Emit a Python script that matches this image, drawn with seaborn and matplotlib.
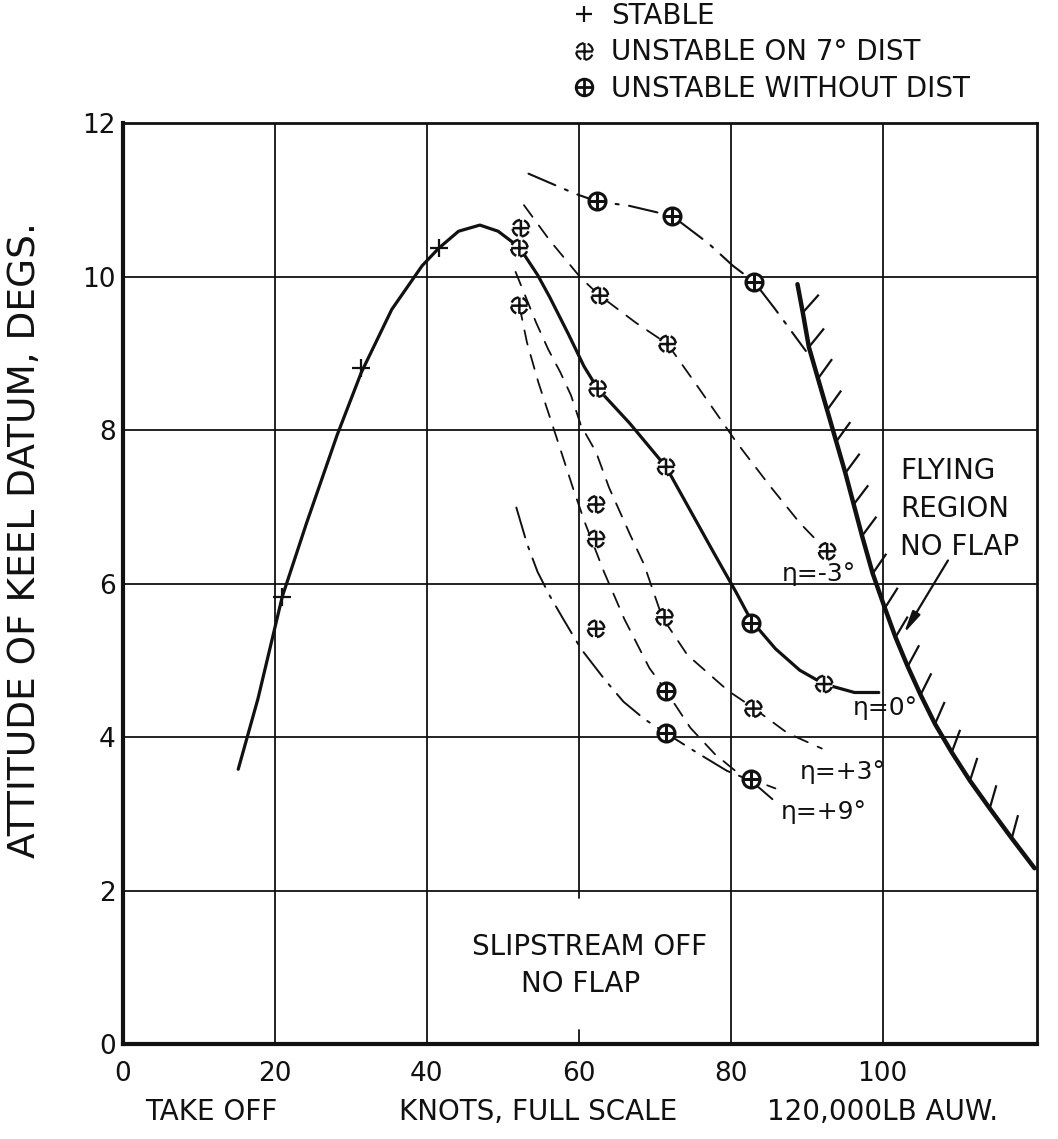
import numpy as np
import pandas as pd
import matplotlib
matplotlib.use("Agg")
import matplotlib.pyplot as plt
from matplotlib.path import Path
from matplotlib.lines import Line2D
from matplotlib.collections import LineCollection
import matplotlib.transforms as mtransforms
import seaborn as sns

# ---------------- data ----------------
# eta = 0 deg curve (solid): rising branch stable, falling branch unstable
eta0_x = [15.2, 17.8, 21.0, 24.2, 28.2, 31.4, 35.4, 39.4, 41.6, 44.2, 47.0, 49.4, 52.2, 54.6,
          56.2, 58.7, 60.7, 62.5, 66.7, 71.5, 74.7, 77.9, 80.7, 82.7, 85.9, 89.1, 92.3, 96.3, 99.5]
eta0_y = [3.58, 4.50, 5.83, 6.79, 7.93, 8.75, 9.57, 10.14, 10.37, 10.59, 10.67, 10.59, 10.38, 10.02,
          9.73, 9.24, 8.83, 8.54, 8.09, 7.52, 6.95, 6.38, 5.89, 5.52, 5.15, 4.87, 4.69, 4.58, 4.58]

# top curve (long dash-dot)
top_x = [53.4, 59.5, 62.4, 66.7, 72.3, 77.1, 80.3, 83.1, 85.9, 89.9]
top_y = [11.34, 11.08, 10.98, 10.92, 10.79, 10.43, 10.14, 9.93, 9.57, 9.03]

# eta = -3 deg (dashed)
etam3_x = [52.8, 56.2, 60.3, 62.8, 67.5, 71.7, 75.5, 80.7, 85.1, 89.1, 92.7]
etam3_y = [10.93, 10.47, 9.98, 9.75, 9.40, 9.12, 8.59, 7.85, 7.28, 6.79, 6.42]

# eta = +3 deg (dashed)
etap3_x = [51.7, 54.4, 56.0, 57.6, 59.0, 60.3, 62.3, 64.0, 66.8, 68.6, 71.0, 74.3, 79.7, 82.7, 87.5, 92.0]
etap3_y = [10.06, 9.40, 9.05, 8.75, 8.45, 8.06, 7.71, 7.25, 6.63, 6.25, 5.56, 5.07, 4.60, 4.40, 4.05, 3.85]

# steep dashed curve (ending near the eta = +9 deg label)
steep_x = [52.2, 53.2, 54.7, 57.0, 59.3, 60.8, 63.3, 66.0, 69.3, 71.5, 74.7, 77.9, 81.1, 82.7, 85.9]
steep_y = [9.62, 9.14, 8.62, 7.93, 7.23, 6.80, 6.16, 5.54, 4.90, 4.60, 4.12, 3.78, 3.52, 3.45, 3.33]

# eta = +9 deg (dash-dot)
etap9_x = [51.8, 53.2, 54.6, 56.2, 57.9, 60.3, 63.5, 65.9, 68.7, 71.5, 75.5, 79.5, 82.7, 85.5]
etap9_y = [6.99, 6.52, 6.15, 5.84, 5.55, 5.15, 4.74, 4.46, 4.23, 4.05, 3.80, 3.56, 3.43, 3.19]

# flying-region boundary (thick, hatched)
bound_x = [88.8, 89.5, 90.3, 91.5, 92.7, 93.9, 95.1, 96.2, 97.3, 98.7, 100.3, 101.7,
           103.3, 105.0, 106.9, 109.1, 111.5, 114.1, 117.0, 120.0]
bound_y = [9.90, 9.53, 9.08, 8.67, 8.26, 7.85, 7.44, 7.03, 6.62, 6.13, 5.68, 5.30,
           4.92, 4.55, 4.17, 3.80, 3.43, 3.07, 2.68, 2.29]

# test points
stable_px = [21.0, 31.4, 41.6]
stable_py = [5.83, 8.81, 10.37]
dist_px = [52.4, 52.2, 52.2, 62.8, 71.7, 62.5, 71.5, 62.3, 62.3, 92.7, 71.3, 62.3, 92.3, 83.0]
dist_py = [10.63, 10.37, 9.62, 9.75, 9.12, 8.54, 7.52, 7.03, 6.58, 6.42, 5.56, 5.41, 4.69, 4.37]
nodist_px = [62.4, 72.3, 83.1, 82.7, 71.5, 71.5, 82.7]
nodist_py = [10.98, 10.79, 9.93, 5.48, 4.60, 4.05, 3.45]

x_ticks = [0, 20, 40, 60, 80, 100]
y_ticks = [0, 2, 4, 6, 8, 10, 12]
legend_labels = ["STABLE", "UNSTABLE ON 7° DIST", "UNSTABLE WITHOUT DIST"]
curve_labels = ["η=-3°", "η=0°", "η=+3°", "η=+9°"]
curve_label_x = [91.6, 100.4, 94.8, 92.2]
curve_label_y = [6.12, 4.38, 3.55, 3.02]

# ---------------- style ----------------
sns.set_theme(style="white")
plt.rcParams['font.family'] = ['DejaVu Sans']
INK = "#111111"

fig = plt.figure(figsize=(10.58, 11.39), dpi=100)
ax = fig.add_axes([0.116, 0.0834, 0.864, 0.8086])
ax.set_xlim(0, 120.3)
ax.set_ylim(0, 12)

# grid (x=60 line broken around the caption)
for xv in [20, 40, 80, 100]:
    ax.axvline(xv, color=INK, lw=1.3, zorder=0)
ax.axvline(60, ymin=1.9 / 12, ymax=1, color=INK, lw=1.3, zorder=0)
ax.axvline(60, ymin=0, ymax=0.18 / 12, color=INK, lw=1.3, zorder=0)
for yv in [2, 4, 6, 8, 10]:
    ax.axhline(yv, color=INK, lw=1.3, zorder=0)

for side, lw in [("left", 3.0), ("bottom", 3.0), ("right", 2.0), ("top", 2.0)]:
    ax.spines[side].set_color(INK)
    ax.spines[side].set_linewidth(lw)
    ax.spines[side].set_visible(True)

# ---------------- curves ----------------
def curve(xs, ys, lw, dashes=None):
    df = pd.DataFrame({"x": xs, "y": ys})
    sns.lineplot(data=df, x="x", y="y", sort=False, estimator=None, color=INK,
                 lw=lw, ax=ax, zorder=2)
    line = ax.lines[-1]
    if dashes is not None:
        line.set_dashes(dashes)
    line.set_solid_capstyle("round")
    line.set_solid_joinstyle("round")
    line.set_dash_capstyle("round")
    line.set_dash_joinstyle("round")
    return line

curve(eta0_x, eta0_y, 2.3)
curve(top_x, top_y, 1.5, (14, 5, 1.5, 5))
curve(etam3_x, etam3_y, 1.3, (8, 6))
curve(etap3_x, etap3_y, 1.3, (8, 6))
curve(steep_x, steep_y, 1.3, (8, 6))
curve(etap9_x, etap9_y, 1.4, (16, 5, 1.5, 5))
curve(bound_x, bound_y, 3.2)

# hatches on the boundary (derived from the boundary data)
fig.canvas.draw()
pts = ax.transData.transform(np.column_stack([bound_x, bound_y]))
segs = []
ang = np.deg2rad(-52)
rot = np.array([[np.cos(ang), -np.sin(ang)], [np.sin(ang), np.cos(ang)]])
for i in range(1, len(pts) - 1):
    t = pts[i - 1] - pts[i + 1]          # tangent pointing up the curve (display coords)
    t = t / np.hypot(*t)
    d = rot @ t
    p0 = pts[i]
    p1 = p0 + d * 24
    segs.append(ax.transData.inverted().transform(np.vstack([p0, p1])))
ax.add_collection(LineCollection(segs, colors=INK, linewidths=1.6, zorder=2))

# ---------------- markers ----------------
circle = Path.unit_circle()
cross = Path([(-1, 0), (1, 0), (0, -1), (0, 1)],
             [Path.MOVETO, Path.LINETO, Path.MOVETO, Path.LINETO])
oplus = Path.make_compound_path(circle, cross)
arcs = [Path.arc(a + 5, a + 68) for a in (0, 90, 180, 270)]
dist_marker = Path.make_compound_path(*arcs, cross)

sns.scatterplot(x=stable_px, y=stable_py, marker="+", s=180, color=INK, linewidth=1.6,
                ax=ax, zorder=4)
sns.scatterplot(x=dist_px, y=dist_py, marker="o", s=140, color="white", linewidth=0,
                ax=ax, zorder=3)
sns.scatterplot(x=dist_px, y=dist_py, marker=dist_marker, s=140, color=INK, linewidth=1.8,
                ax=ax, zorder=4)
ax.collections[-1].set_facecolor("none")
ax.collections[-1].set_edgecolor(INK)
sns.scatterplot(x=nodist_px, y=nodist_py, marker=oplus, s=150, color=INK, linewidth=2.2,
                ax=ax, zorder=4)
ax.collections[-1].set_facecolor("white")
ax.collections[-1].set_edgecolor(INK)

# ---------------- texts ----------------
FS = 20
for lab, lx, ly in zip(curve_labels, curve_label_x, curve_label_y):
    ax.text(lx, ly, lab, fontsize=FS - 2, ha="center", va="center", color=INK, zorder=5)

ax.text(102.3, 7.47, "FLYING", fontsize=FS, ha="left", va="center", color=INK)
ax.text(102.3, 6.97, "REGION", fontsize=FS, ha="left", va="center", color=INK)
ax.text(102.3, 6.48, "NO FLAP", fontsize=FS, ha="left", va="center", color=INK)
ax.annotate("", xy=(102.8, 5.35), xytext=(108.6, 6.3),
            arrowprops=dict(arrowstyle="-|>,head_length=1.1,head_width=0.22",
                            color=INK, lw=1.6, shrinkA=0, shrinkB=0))

ax.text(61.5, 1.27, "SLIPSTREAM OFF", fontsize=FS, ha="center", va="center", color=INK)
ax.text(60.3, 0.78, "NO FLAP", fontsize=FS, ha="center", va="center", color=INK)

ax.set_xticks(x_ticks)
ax.set_xticklabels([str(v) for v in x_ticks])
ax.set_yticks(y_ticks)
ax.set_yticklabels([str(v) for v in y_ticks])
ax.tick_params(axis="x", length=0, pad=12, labelsize=19, colors=INK)
ax.tick_params(axis="y", length=0, pad=5, labelsize=19, colors=INK)
ax.set_xlabel("")
ax.set_ylabel("ATTITUDE OF KEEL DATUM, DEGS.", fontsize=27, color=INK)
ax.yaxis.set_label_coords(-0.087, 0.547)

trans = mtransforms.blended_transform_factory(ax.transData, ax.transAxes)
ax.text(11.7, -0.074, "TAKE OFF", transform=trans, fontsize=FS, ha="center", va="center", color=INK)
ax.text(54.7, -0.074, "KNOTS, FULL SCALE", transform=trans, fontsize=FS, ha="center", va="center", color=INK)
ax.text(100.0, -0.074, "120,000LB AUW.", transform=trans, fontsize=FS, ha="center", va="center", color=INK)

# legend at top
h_stable = Line2D([], [], ls="none", marker="+", ms=12, mew=1.6, color=INK)
h_dist = Line2D([], [], ls="none", marker=dist_marker, ms=12, mew=1.6, color=INK, mfc="none")
h_nodist = Line2D([], [], ls="none", marker=oplus, ms=12, mew=2.0, color=INK, mfc="white")
fig.legend([h_stable, h_dist, h_nodist], legend_labels, loc="upper left",
           bbox_to_anchor=(0.528, 1.008), frameon=False, fontsize=FS, handlelength=1.0,
           handletextpad=0.5, labelspacing=0.30, borderaxespad=0, labelcolor=INK)

fig.savefig("out.png", dpi=100, facecolor="white")
